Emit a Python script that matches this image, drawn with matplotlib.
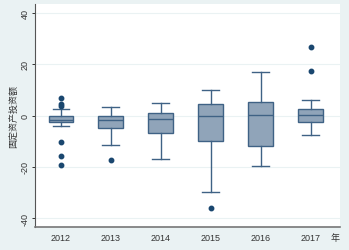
import matplotlib
matplotlib.use("Agg")
import matplotlib.pyplot as plt
import matplotlib.transforms as mtransforms

plt.rcParams["font.family"] = ["Liberation Sans", "Noto Sans CJK SC", "DejaVu Sans"]

# box statistics
years = ["2012", "2013", "2014", "2015", "2016", "2017"]
medians = [-1.6, -1.7, -1.2, -0.2, 0.4, 0.15]
q1 = [-2.6, -4.9, -6.9, -9.7, -11.9, -2.5]
q3 = [-0.2, -0.2, 1.05, 4.7, 5.5, 2.6]
whislo = [-3.9, -11.5, -16.8, -29.7, -19.7, -7.5]
whishi = [2.5, 3.5, 5.1, 10.1, 17.2, 6.2]
outliers = [
    [6.8, 4.4, 3.7, -10.4, -15.8, -19.2],
    [-17.2],
    [],
    [-36.0],
    [],
    [26.7, 17.4],
]
yticks = [-40, -20, 0, 20, 40]

BG = "#EAF2F3"
FILL = "#90A4B9"
EDGE = "#3F6285"
NAVY = "#1A476F"

stats = []
for i in range(len(years)):
    stats.append(dict(med=medians[i], q1=q1[i], q3=q3[i],
                      whislo=whislo[i], whishi=whishi[i],
                      fliers=outliers[i], label=years[i]))

fig = plt.figure(figsize=(3.49, 2.51), dpi=100, facecolor=BG)
ax = fig.add_axes([0.1003, 0.0916, 0.8737, 0.8884])
ax.set_facecolor("white")

pos = list(range(len(years)))
ax.bxp(stats, positions=pos, widths=0.5, patch_artist=True,
       boxprops=dict(facecolor=FILL, edgecolor=EDGE, linewidth=1.0),
       medianprops=dict(color=EDGE, linewidth=1.0),
       whiskerprops=dict(color=EDGE, linewidth=1.0),
       capprops=dict(color=EDGE, linewidth=1.0),
       capwidths=0.34,
       flierprops=dict(marker="o", markersize=3.2, markerfacecolor=NAVY,
                       markeredgecolor=NAVY, linestyle="none"))

ax.set_xlim(-0.52, 5.58)
ax.set_ylim(-43.4, 43.5)
ax.set_yticks(yticks)
ax.set_yticklabels([str(t) for t in yticks], rotation=90, va="center")
for t in yticks:
    ax.axhline(t, color=BG, linewidth=0.8, zorder=0)

for side in ["top", "right"]:
    ax.spines[side].set_visible(False)
ax.spines["left"].set_color("#555555")
ax.spines["bottom"].set_color("#777777")
ax.spines["bottom"].set_linewidth(1.2)
ax.spines["left"].set_linewidth(0.8)

ax.tick_params(axis="y", length=2.5, width=0.7, colors="#333333", labelsize=6.5, pad=1.5)
ax.tick_params(axis="x", length=0, colors="#333333", labelsize=6.5, pad=4)

ax.set_ylabel("固定资产投资额", fontsize=6.5, color="#333333", labelpad=2)

trans = mtransforms.blended_transform_factory(ax.transData, ax.transAxes)
ax.text(5.48, -0.046, "年", transform=trans, fontsize=6.5, color="#333333",
        ha="center", va="center")

fig.savefig("out.png", dpi=100, facecolor=BG)
